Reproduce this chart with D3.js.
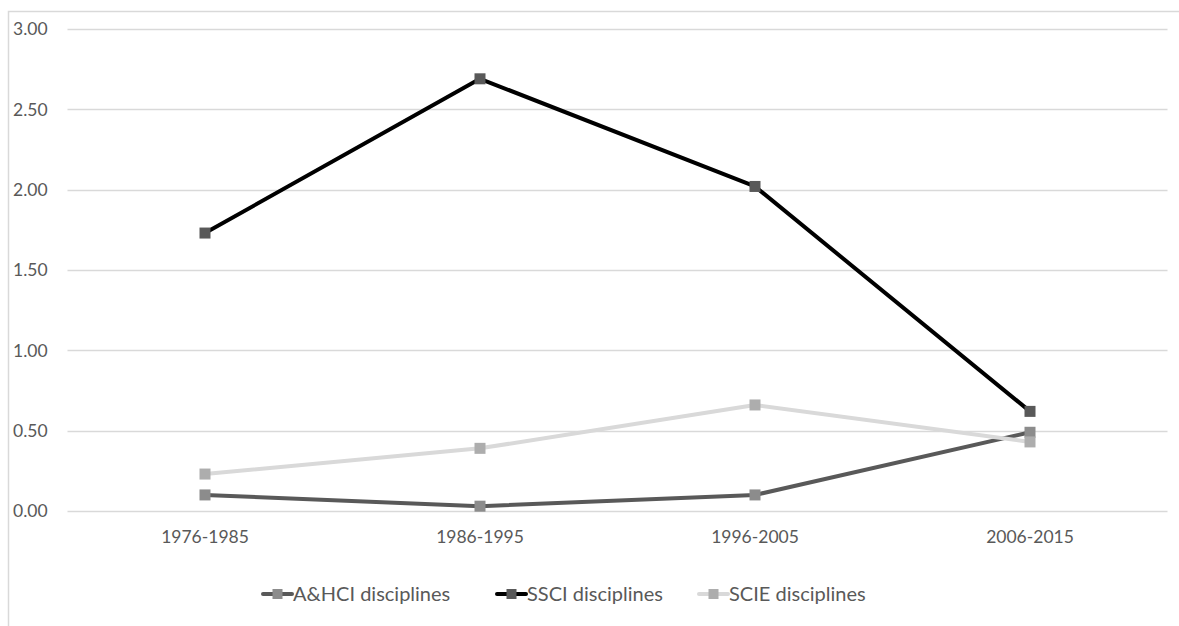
<!DOCTYPE html>
<html>
<head>
<meta charset="utf-8">
<script src="https://cdn.jsdelivr.net/npm/d3@7"></script>
<style>
  html, body { margin: 0; padding: 0; background: #fff; }
  svg { display: block; }
  text { font-family: Lato, "Open Sans", sans-serif; fill: #595959; }
</style>
</head>
<body>
<svg id="chart" width="1179" height="626"></svg>
<script>
// Periods on the category axis
const periods = ["1976-1985", "1986-1995", "1996-2005", "2006-2015"];

// Series values per period
const ahciValues = [0.10, 0.03, 0.10, 0.49];
const ssciValues = [1.73, 2.69, 2.02, 0.62];
const scieValues = [0.23, 0.39, 0.66, 0.43];

// Value axis ticks
const yTicks = [0, 0.5, 1.0, 1.5, 2.0, 2.5, 3.0];

const seriesNames = ["A&HCI disciplines", "SSCI disciplines", "SCIE disciplines"];
const seriesValues = [ahciValues, ssciValues, scieValues];

const lineColors = ["#595959", "#000000", "#d9d9d9"];
const markerColors = ["#8c8c8c", "#595959", "#adadad"];

const svg = d3.select("#chart");
const W = 1179, H = 626;

const plot = { left: 67.5, right: 1167.5, top: 29, bottom: 511 };

// Chart area frame (top and left edges visible)
svg.append("path")
  .attr("d", `M8.5,${H} V11.5 H${W}`)
  .attr("fill", "none")
  .attr("stroke", "#d9d9d9")
  .attr("stroke-width", 1.5);

const x = d3.scaleBand()
  .domain(periods)
  .range([plot.left, plot.right]);

const y = d3.scaleLinear()
  .domain([0, 3])
  .range([plot.bottom, plot.top]);

// Horizontal gridlines
svg.append("g")
  .selectAll("line")
  .data(yTicks)
  .join("line")
  .attr("x1", plot.left)
  .attr("x2", plot.right)
  .attr("y1", d => Math.round(y(d)) + 0.5)
  .attr("y2", d => Math.round(y(d)) + 0.5)
  .attr("stroke", "#d9d9d9")
  .attr("stroke-width", 1.3);

// Value axis labels
svg.append("g")
  .selectAll("text")
  .data(yTicks)
  .join("text")
  .attr("x", 13)
  .attr("y", d => y(d))
  .attr("dy", "0.36em")
  .attr("font-size", 17.5)
  .text(d => d3.format(".2f")(d));

// Category axis labels
svg.append("g")
  .selectAll("text")
  .data(periods)
  .join("text")
  .attr("x", d => x(d) + x.bandwidth() / 2)
  .attr("y", 537)
  .attr("dy", "0.36em")
  .attr("text-anchor", "middle")
  .attr("font-size", 17.5)
  .text(d => d);

const line = d3.line()
  .x((d, i) => x(periods[i]) + x.bandwidth() / 2)
  .y(d => y(d));

const mk = 11;

seriesValues.forEach((vals, s) => {
  const g = svg.append("g");
  g.append("path")
    .datum(vals)
    .attr("d", line)
    .attr("fill", "none")
    .attr("stroke", lineColors[s])
    .attr("stroke-width", 4)
    .attr("stroke-linejoin", "round");
  g.selectAll("rect")
    .data(vals)
    .join("rect")
    .attr("x", (d, i) => x(periods[i]) + x.bandwidth() / 2 - mk / 2)
    .attr("y", d => y(d) - mk / 2)
    .attr("width", mk)
    .attr("height", mk)
    .attr("fill", markerColors[s]);
});

// Legend
const legendX = [262, 496, 698];
const legendY = 594;
const lg = svg.append("g");
seriesNames.forEach((name, s) => {
  const item = lg.append("g").attr("transform", `translate(${legendX[s]},${legendY})`);
  item.append("line")
    .attr("x1", 1).attr("x2", 30)
    .attr("y1", 0).attr("y2", 0)
    .attr("stroke", lineColors[s])
    .attr("stroke-width", 4)
    .attr("stroke-linecap", "round");
  item.append("rect")
    .attr("x", 15.5 - 5).attr("y", -5)
    .attr("width", 10).attr("height", 10)
    .attr("fill", markerColors[s]);
  item.append("text")
    .attr("x", 31)
    .attr("y", 0)
    .attr("dy", "0.36em")
    .attr("font-size", 20)
    .text(name);
});
</script>
</body>
</html>
